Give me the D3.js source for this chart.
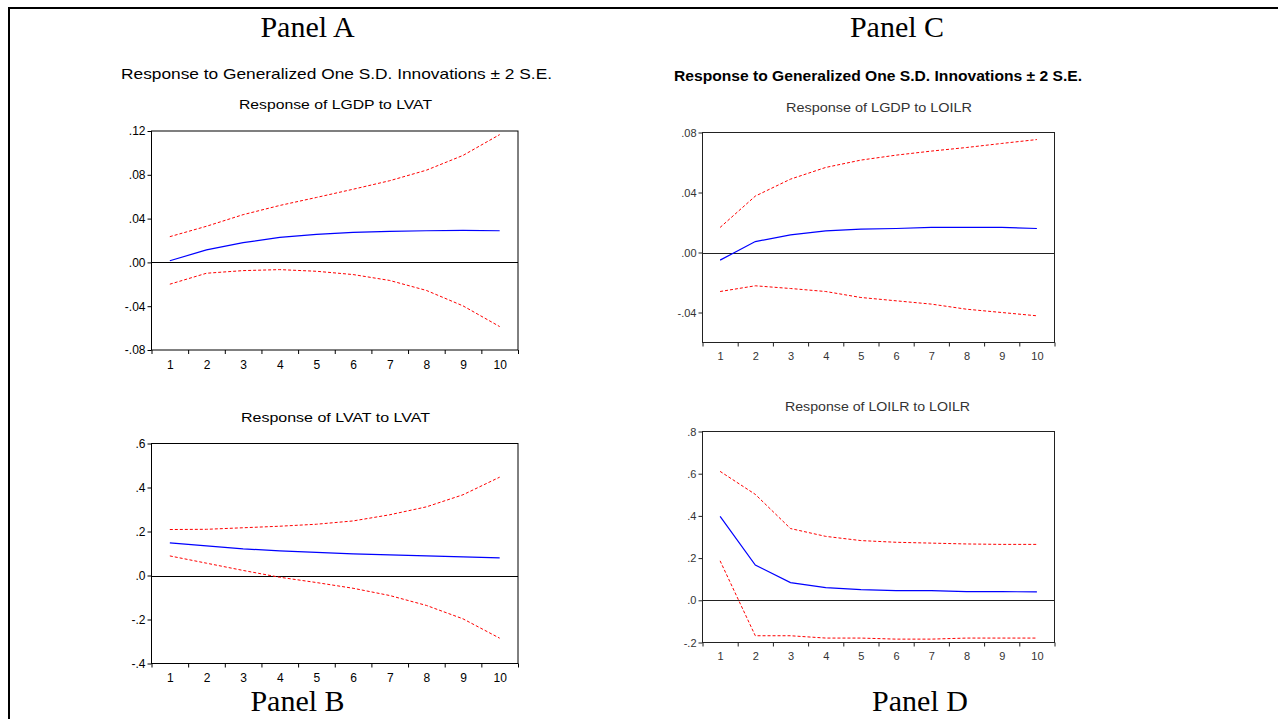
<!DOCTYPE html>
<html>
<head>
<meta charset="utf-8">
<script src="https://cdn.jsdelivr.net/npm/d3@7"></script>
<style>
  html, body { margin: 0; padding: 0; background: #fff; }
  svg { display: block; }
</style>
</head>
<body>
<svg id="chart" width="1278" height="719"></svg>
<script>
// ---- data ----
const horizons = [1, 2, 3, 4, 5, 6, 7, 8, 9, 10];

// Panel A: Response of LGDP to LVAT
const aResp  = [0.0015, 0.0114, 0.0180, 0.0229, 0.0256, 0.0274, 0.0283, 0.0289, 0.0292, 0.0289];
const aUpper = [0.0235, 0.0330, 0.0436, 0.0520, 0.0593, 0.0668, 0.0746, 0.0842, 0.0977, 0.1167];
const aLower = [-0.0199, -0.0099, -0.0075, -0.0066, -0.0081, -0.0111, -0.0165, -0.0256, -0.0397, -0.0586];
const aTicks = [0.12, 0.08, 0.04, 0.00, -0.04, -0.08];

// Panel B: Response of LVAT to LVAT
const bResp  = [0.148, 0.135, 0.121, 0.112, 0.105, 0.098, 0.094, 0.089, 0.085, 0.080];
const bUpper = [0.209, 0.210, 0.217, 0.224, 0.233, 0.248, 0.276, 0.312, 0.367, 0.447];
const bLower = [0.089, 0.056, 0.023, -0.008, -0.032, -0.058, -0.091, -0.136, -0.197, -0.285];
const bTicks = [0.6, 0.4, 0.2, 0.0, -0.2, -0.4];

// Panel C: Response of LGDP to LOILR
const cResp  = [-0.0051, 0.0073, 0.0118, 0.0144, 0.0156, 0.0160, 0.0167, 0.0167, 0.0167, 0.0160];
const cUpper = [0.0167, 0.0376, 0.0489, 0.0567, 0.0616, 0.0649, 0.0676, 0.0700, 0.0727, 0.0753];
const cLower = [-0.0260, -0.0222, -0.0240, -0.0260, -0.0300, -0.0322, -0.0344, -0.0378, -0.0400, -0.0422];
const cTicks = [0.08, 0.04, 0.00, -0.04];

// Panel D: Response of LOILR to LOILR
const dResp  = [0.398, 0.167, 0.084, 0.060, 0.051, 0.046, 0.046, 0.041, 0.041, 0.040];
const dUpper = [0.611, 0.502, 0.340, 0.303, 0.283, 0.275, 0.271, 0.267, 0.265, 0.265];
const dLower = [0.187, -0.168, -0.168, -0.179, -0.179, -0.184, -0.184, -0.179, -0.179, -0.179];
const dTicks = [0.8, 0.6, 0.4, 0.2, 0.0, -0.2];

const panelLabels = ["Panel A", "Panel B", "Panel C", "Panel D"];
const mainTitle = "Response to Generalized One S.D. Innovations \u00B1 2 S.E.";
const chartTitles = ["Response of LGDP to LVAT", "Response of LVAT to LVAT",
                     "Response of LGDP to LOILR", "Response of LOILR to LOILR"];

// ---- drawing ----
const svg = d3.select("#chart");

// outer frame (top and left edges)
svg.append("line").attr("x1", 8).attr("x2", 1278).attr("y1", 8).attr("y2", 8)
  .attr("stroke", "#000").attr("stroke-width", 2);
svg.append("line").attr("x1", 9).attr("x2", 9).attr("y1", 7).attr("y2", 719)
  .attr("stroke", "#000").attr("stroke-width", 2);

function tickText(fmt, v) {
  return fmt(v).replace("\u2212", "-").replace(/^(-?)0\./, "$1.");
}

const panels = [
  { resp: aResp, up: aUpper, lo: aLower, ticks: aTicks, dom: [-0.08, 0.12], fmt: d3.format(".2f"),
    x0: 151.5, x1: 518, y0: 131, y1: 350, title: chartTitles[0], titleX: 335.5, titleY: 109, titleW: 193,
    ink: "#000", tickFont: 12, frame: "#000", pad: 10 },
  { resp: bResp, up: bUpper, lo: bLower, ticks: bTicks, dom: [-0.4, 0.6], fmt: d3.format(".1f"),
    x0: 151.5, x1: 518, y0: 443.5, y1: 663.5, title: chartTitles[1], titleX: 335.5, titleY: 422, titleW: 189,
    ink: "#000", tickFont: 12, frame: "#000", pad: 10 },
  { resp: cResp, up: cUpper, lo: cLower, ticks: cTicks, dom: [-0.06, 0.08], fmt: d3.format(".2f"),
    x0: 702.5, x1: 1054.5, y0: 132.5, y1: 342.5, title: chartTitles[2], titleX: 879, titleY: 112, titleW: 186,
    ink: "#333", tickFont: 11, frame: "#222", pad: 10 },
  { resp: dResp, up: dUpper, lo: dLower, ticks: dTicks, dom: [-0.2, 0.8], fmt: d3.format(".1f"),
    x0: 702.5, x1: 1054.5, y0: 431.5, y1: 642.5, title: chartTitles[3], titleX: 877.5, titleY: 411, titleW: 185,
    ink: "#333", tickFont: 11, frame: "#222", pad: 10 }
];

panels.forEach(p => {
  const g = svg.append("g");
  const x = d3.scaleLinear().domain([0.5, 10.5]).range([p.x0, p.x1]);
  const y = d3.scaleLinear().domain(p.dom).range([p.y1, p.y0]);

  // y axis
  const ya = g.append("g").attr("transform", `translate(${p.x0},0)`)
    .call(d3.axisLeft(y).tickValues(p.ticks).tickSize(4).tickPadding(2)
      .tickFormat(v => tickText(p.fmt, v)));
  ya.select(".domain").remove();
  ya.selectAll("line").attr("stroke", p.frame);
  ya.selectAll("text").attr("font-family", "Arial, 'Liberation Sans', sans-serif")
    .attr("font-size", p.tickFont).attr("fill", p.ink);

  // x axis tick marks at bin edges
  const edges = d3.range(0.5, 11, 1);
  const xa = g.append("g").attr("transform", `translate(0,${p.y1})`)
    .call(d3.axisBottom(x).tickValues(edges).tickSize(4).tickFormat(""));
  xa.select(".domain").remove();
  xa.selectAll("line").attr("stroke", p.frame);
  // x labels at integers
  const xl = g.append("g").attr("transform", `translate(0,${p.y1})`)
    .call(d3.axisBottom(x).tickValues(horizons).tickSize(0).tickPadding(p.pad).tickFormat(d3.format("d")));
  xl.select(".domain").remove();
  xl.selectAll("text").attr("font-family", "Arial, 'Liberation Sans', sans-serif")
    .attr("font-size", p.tickFont).attr("fill", p.ink);

  // frame
  g.append("rect").attr("x", p.x0).attr("y", p.y0)
    .attr("width", p.x1 - p.x0).attr("height", p.y1 - p.y0)
    .attr("fill", "none").attr("stroke", p.frame).attr("stroke-width", 1);

  // zero line
  g.append("line").attr("x1", p.x0).attr("x2", p.x1)
    .attr("y1", Math.round(y(0)) + 0.5).attr("y2", Math.round(y(0)) + 0.5)
    .attr("stroke", p.frame).attr("stroke-width", 1);

  const line = d3.line().x((d, i) => x(horizons[i])).y(d => y(d));
  g.append("path").datum(p.up).attr("d", line).attr("fill", "none")
    .attr("stroke", "#ff0000").attr("stroke-width", 1).attr("stroke-dasharray", "3,2");
  g.append("path").datum(p.lo).attr("d", line).attr("fill", "none")
    .attr("stroke", "#ff0000").attr("stroke-width", 1).attr("stroke-dasharray", "3,2");
  g.append("path").datum(p.resp).attr("d", line).attr("fill", "none")
    .attr("stroke", "#0000ff").attr("stroke-width", 1.2);

  // chart title
  g.append("text").attr("x", p.titleX).attr("y", p.titleY).attr("text-anchor", "middle")
    .attr("font-family", "Arial, 'Liberation Sans', sans-serif").attr("font-size", 13.5)
    .attr("fill", p.ink).attr("textLength", p.titleW).attr("lengthAdjust", "spacingAndGlyphs")
    .text(p.title);
});

// main titles
svg.append("text").attr("x", 336.5).attr("y", 79).attr("text-anchor", "middle")
  .attr("font-family", "Arial, 'Liberation Sans', sans-serif").attr("font-size", 14.5)
  .attr("fill", "#000").attr("textLength", 431).attr("lengthAdjust", "spacingAndGlyphs")
  .text(mainTitle);
svg.append("text").attr("x", 878).attr("y", 81).attr("text-anchor", "middle")
  .attr("font-family", "Arial, 'Liberation Sans', sans-serif").attr("font-size", 14)
  .attr("font-weight", "bold")
  .attr("fill", "#000").attr("textLength", 408).attr("lengthAdjust", "spacingAndGlyphs")
  .text(mainTitle);

// panel labels
const labelPos = [[307.5, 37], [297.5, 711], [897, 37], [920, 711]];
panelLabels.forEach((t, i) => {
  svg.append("text").attr("x", labelPos[i][0]).attr("y", labelPos[i][1])
    .attr("text-anchor", "middle")
    .attr("font-family", "'Times New Roman', 'Liberation Serif', serif")
    .attr("font-size", 30).attr("fill", "#000").text(t);
});
</script>
</body>
</html>
